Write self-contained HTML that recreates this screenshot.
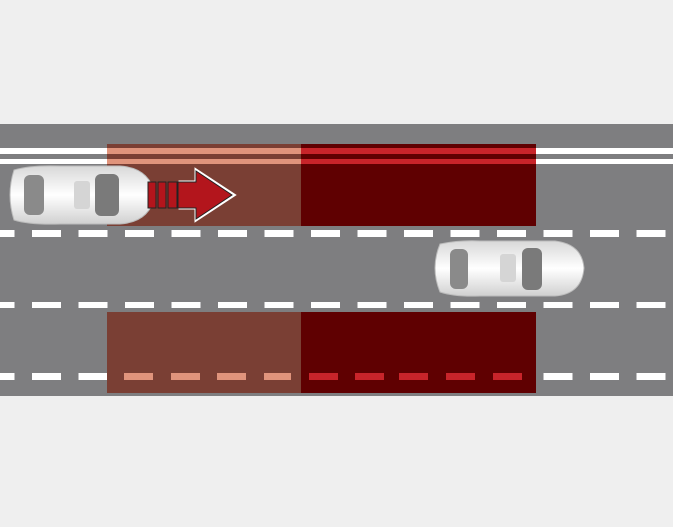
<!DOCTYPE html><html><head><style>body{margin:0;width:673px;height:522px;background:#efefef;overflow:hidden}</style></head><body>
<svg width="673" height="522" viewBox="0 0 673 522" xmlns="http://www.w3.org/2000/svg">
<defs>
<pattern id="d" x="32" y="0" width="46.5" height="10" patternUnits="userSpaceOnUse"><rect x="0" y="0" width="29" height="10" fill="#fff"/></pattern>
<linearGradient id="cg" x1="0" y1="0" x2="0" y2="1"><stop offset="0" stop-color="#d8d8d8"/><stop offset=".5" stop-color="#fff"/><stop offset="1" stop-color="#d0d0d0"/></linearGradient>
</defs>
<rect x="0" y="124" width="673" height="272" fill="#7e7e80"/>
<rect x="0" y="148" width="673" height="6" fill="#fff"/>
<rect x="0" y="159" width="673" height="5" fill="#fff"/>
<rect x="0" y="230" width="673" height="7" fill="url(#d)"/>
<rect x="0" y="302" width="673" height="6" fill="url(#d)"/>
<rect x="0" y="373" width="673" height="7" fill="url(#d)"/>
<!-- zones -->
<rect x="107" y="144" width="194" height="82" fill="#7a3f34"/>
<rect x="301" y="144" width="235" height="82" fill="#5f0001"/>
<rect x="107" y="148" width="194" height="6" fill="#e0947c"/>
<rect x="107" y="159" width="194" height="5" fill="#e0947c"/>
<rect x="301" y="148" width="235" height="6" fill="#c8242a"/>
<rect x="301" y="159" width="235" height="5" fill="#c8242a"/>
<rect x="107" y="312" width="194" height="81" fill="#7a3f34"/>
<rect x="301" y="312" width="235" height="81" fill="#5f0001"/>
<g fill="#e0947c"><rect x="124" y="373" width="29" height="7"/><rect x="171" y="373" width="29" height="7"/><rect x="217" y="373" width="29" height="7"/><rect x="264" y="373" width="27" height="7"/></g>
<g fill="#c8242a"><rect x="309" y="373" width="29" height="7"/><rect x="355" y="373" width="29" height="7"/><rect x="399" y="373" width="29" height="7"/><rect x="446" y="373" width="29" height="7"/><rect x="493" y="373" width="29" height="7"/></g>
<!-- left car -->
<g>
<path d="M14 170 Q30 165 60 166 L120 166 Q150 168 155 195 Q150 222 120 224 L60 224 Q30 225 14 220 Q6 195 14 170Z" fill="url(#cg)" stroke="#bbb"/>
<rect x="24" y="175" width="20" height="40" rx="6" fill="#8a8a8a"/>
<rect x="95" y="174" width="24" height="42" rx="6" fill="#7a7a7a"/>
<rect x="74" y="181" width="16" height="28" rx="3" fill="#d5d5d5"/>
</g>
<!-- arrow -->
<g stroke="#fff" stroke-width="3" fill="#b3151c">
<path d="M180 182 L196 182 L196 170 L234 195 L196 220 L196 208 L180 208 Z"/>
</g>
<g stroke="#222" stroke-width="1" fill="#b3151c">
<rect x="148" y="182" width="8" height="26"/><rect x="158" y="182" width="8" height="26"/><rect x="168" y="182" width="9" height="26"/>
<path d="M178 182 L196 182 L196 171 L232 195 L196 219 L196 208 L178 208 Z"/>
</g>
<!-- right car -->
<g>
<path d="M440 244 Q460 240 480 241 L555 241 Q582 244 584 268 Q582 294 555 296 L480 296 Q455 297 440 292 Q430 268 440 244Z" fill="url(#cg)" stroke="#bbb"/>
<rect x="450" y="249" width="18" height="40" rx="6" fill="#8a8a8a"/>
<rect x="522" y="248" width="20" height="42" rx="6" fill="#7a7a7a"/>
<rect x="500" y="254" width="16" height="28" rx="3" fill="#d5d5d5"/>
</g>
</svg>
</body></html>
